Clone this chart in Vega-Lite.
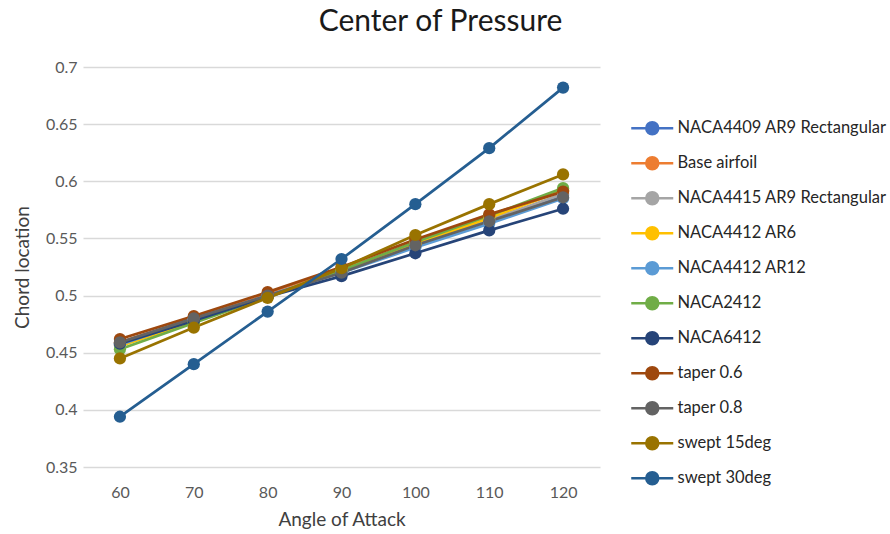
{
  "$schema": "https://vega.github.io/schema/vega-lite/v6.json",
  "autosize": {"type": "none"},
  "width": 517,
  "height": 400,
  "padding": {"left": 83, "top": 67, "right": 290, "bottom": 67},
  "background": "white",
  "title": {
    "text": "Center of Pressure",
    "font": "Lato",
    "fontSize": 30,
    "fontWeight": "normal",
    "color": "#1a1a1a",
    "anchor": "middle",
    "frame": "group",
    "dx": 99,
    "offset": 22
  },
  "config": {
    "view": {"stroke": null},
    "font": "Lato",
    "axis": {
      "labelFont": "Lato",
      "labelFontSize": 16,
      "labelColor": "#595959",
      "titleFont": "Lato",
      "titleFontSize": 19,
      "titleFontWeight": "normal",
      "titleColor": "#404040"
    }
  },
  "data": {
    "values": [
      {"series": "NACA4409 AR9 Rectangular", "aoa": 60, "cp": 0.457},
      {"series": "NACA4409 AR9 Rectangular", "aoa": 70, "cp": 0.479},
      {"series": "NACA4409 AR9 Rectangular", "aoa": 80, "cp": 0.500},
      {"series": "NACA4409 AR9 Rectangular", "aoa": 90, "cp": 0.521},
      {"series": "NACA4409 AR9 Rectangular", "aoa": 100, "cp": 0.543},
      {"series": "NACA4409 AR9 Rectangular", "aoa": 110, "cp": 0.566},
      {"series": "NACA4409 AR9 Rectangular", "aoa": 120, "cp": 0.588},
      {"series": "Base airfoil", "aoa": 60, "cp": 0.459},
      {"series": "Base airfoil", "aoa": 70, "cp": 0.480},
      {"series": "Base airfoil", "aoa": 80, "cp": 0.501},
      {"series": "Base airfoil", "aoa": 90, "cp": 0.523},
      {"series": "Base airfoil", "aoa": 100, "cp": 0.546},
      {"series": "Base airfoil", "aoa": 110, "cp": 0.569},
      {"series": "Base airfoil", "aoa": 120, "cp": 0.592},
      {"series": "NACA4415 AR9 Rectangular", "aoa": 60, "cp": 0.458},
      {"series": "NACA4415 AR9 Rectangular", "aoa": 70, "cp": 0.479},
      {"series": "NACA4415 AR9 Rectangular", "aoa": 80, "cp": 0.500},
      {"series": "NACA4415 AR9 Rectangular", "aoa": 90, "cp": 0.522},
      {"series": "NACA4415 AR9 Rectangular", "aoa": 100, "cp": 0.544},
      {"series": "NACA4415 AR9 Rectangular", "aoa": 110, "cp": 0.566},
      {"series": "NACA4415 AR9 Rectangular", "aoa": 120, "cp": 0.589},
      {"series": "NACA4412 AR6", "aoa": 60, "cp": 0.456},
      {"series": "NACA4412 AR6", "aoa": 70, "cp": 0.477},
      {"series": "NACA4412 AR6", "aoa": 80, "cp": 0.499},
      {"series": "NACA4412 AR6", "aoa": 90, "cp": 0.522},
      {"series": "NACA4412 AR6", "aoa": 100, "cp": 0.545},
      {"series": "NACA4412 AR6", "aoa": 110, "cp": 0.568},
      {"series": "NACA4412 AR6", "aoa": 120, "cp": 0.592},
      {"series": "NACA4412 AR12", "aoa": 60, "cp": 0.457},
      {"series": "NACA4412 AR12", "aoa": 70, "cp": 0.479},
      {"series": "NACA4412 AR12", "aoa": 80, "cp": 0.500},
      {"series": "NACA4412 AR12", "aoa": 90, "cp": 0.520},
      {"series": "NACA4412 AR12", "aoa": 100, "cp": 0.542},
      {"series": "NACA4412 AR12", "aoa": 110, "cp": 0.563},
      {"series": "NACA4412 AR12", "aoa": 120, "cp": 0.585},
      {"series": "NACA2412", "aoa": 60, "cp": 0.453},
      {"series": "NACA2412", "aoa": 70, "cp": 0.476},
      {"series": "NACA2412", "aoa": 80, "cp": 0.499},
      {"series": "NACA2412", "aoa": 90, "cp": 0.522},
      {"series": "NACA2412", "aoa": 100, "cp": 0.547},
      {"series": "NACA2412", "aoa": 110, "cp": 0.570},
      {"series": "NACA2412", "aoa": 120, "cp": 0.594},
      {"series": "NACA6412", "aoa": 60, "cp": 0.458},
      {"series": "NACA6412", "aoa": 70, "cp": 0.478},
      {"series": "NACA6412", "aoa": 80, "cp": 0.499},
      {"series": "NACA6412", "aoa": 90, "cp": 0.517},
      {"series": "NACA6412", "aoa": 100, "cp": 0.537},
      {"series": "NACA6412", "aoa": 110, "cp": 0.557},
      {"series": "NACA6412", "aoa": 120, "cp": 0.576},
      {"series": "taper 0.6", "aoa": 60, "cp": 0.462},
      {"series": "taper 0.6", "aoa": 70, "cp": 0.482},
      {"series": "taper 0.6", "aoa": 80, "cp": 0.503},
      {"series": "taper 0.6", "aoa": 90, "cp": 0.525},
      {"series": "taper 0.6", "aoa": 100, "cp": 0.549},
      {"series": "taper 0.6", "aoa": 110, "cp": 0.571},
      {"series": "taper 0.6", "aoa": 120, "cp": 0.591},
      {"series": "taper 0.8", "aoa": 60, "cp": 0.459},
      {"series": "taper 0.8", "aoa": 70, "cp": 0.480},
      {"series": "taper 0.8", "aoa": 80, "cp": 0.500},
      {"series": "taper 0.8", "aoa": 90, "cp": 0.520},
      {"series": "taper 0.8", "aoa": 100, "cp": 0.544},
      {"series": "taper 0.8", "aoa": 110, "cp": 0.565},
      {"series": "taper 0.8", "aoa": 120, "cp": 0.586},
      {"series": "swept 15deg", "aoa": 60, "cp": 0.445},
      {"series": "swept 15deg", "aoa": 70, "cp": 0.472},
      {"series": "swept 15deg", "aoa": 80, "cp": 0.498},
      {"series": "swept 15deg", "aoa": 90, "cp": 0.524},
      {"series": "swept 15deg", "aoa": 100, "cp": 0.553},
      {"series": "swept 15deg", "aoa": 110, "cp": 0.580},
      {"series": "swept 15deg", "aoa": 120, "cp": 0.606},
      {"series": "swept 30deg", "aoa": 60, "cp": 0.394},
      {"series": "swept 30deg", "aoa": 70, "cp": 0.440},
      {"series": "swept 30deg", "aoa": 80, "cp": 0.486},
      {"series": "swept 30deg", "aoa": 90, "cp": 0.532},
      {"series": "swept 30deg", "aoa": 100, "cp": 0.580},
      {"series": "swept 30deg", "aoa": 110, "cp": 0.629},
      {"series": "swept 30deg", "aoa": 120, "cp": 0.682}
    ]
  },
  "mark": {
    "type": "line",
    "strokeWidth": 2.75,
    "point": {"filled": true, "size": 150, "opacity": 1}
  },
  "encoding": {
    "x": {
      "field": "aoa",
      "type": "ordinal",
      "scale": {"type": "point", "padding": 0.5},
      "axis": {
        "title": "Angle of Attack",
        "labelAngle": 0,
        "ticks": false,
        "domain": false,
        "grid": false,
        "labelPadding": 17,
        "titlePadding": 10
      }
    },
    "y": {
      "field": "cp",
      "type": "quantitative",
      "scale": {"domain": [0.35, 0.7], "nice": false, "zero": false},
      "axis": {
        "title": "Chord location",
        "values": [0.35, 0.4, 0.45, 0.5, 0.55, 0.6, 0.65, 0.7],
        "format": "~g",
        "ticks": false,
        "domain": false,
        "grid": true,
        "gridColor": "#d9d9d9",
        "gridWidth": 1.5,
        "labelPadding": 6,
        "titlePadding": 13
      }
    },
    "color": {
      "field": "series",
      "type": "nominal",
      "sort": null,
      "scale": {
        "domain": ["NACA4409 AR9 Rectangular", "Base airfoil", "NACA4415 AR9 Rectangular", "NACA4412 AR6", "NACA4412 AR12", "NACA2412", "NACA6412", "taper 0.6", "taper 0.8", "swept 15deg", "swept 30deg"],
        "range": ["#4472C4", "#ED7D31", "#A5A5A5", "#FFC000", "#5B9BD5", "#70AD47", "#264478", "#9E480E", "#636363", "#997300", "#255E91"]
      },
      "legend": {
        "title": null,
        "orient": "none",
        "legendX": 561,
        "legendY": 53,
        "padding": 0,
        "symbolType": "M-3.5,0L3.5,0M1,0A1,1,0,1,1,-1,0A1,1,0,1,1,1,0Z",
        "symbolSize": 144,
        "symbolStrokeWidth": 2.5,
        "labelFont": "Lato",
        "labelFontSize": 16.5,
        "labelColor": "#262626",
        "labelOffset": 17,
        "labelLimit": 260,
        "rowPadding": 12,
        "encode": {
          "symbols": {
            "update": {
              "fill": {"scale": "color", "field": "value"},
              "stroke": {"scale": "color", "field": "value"},
              "opacity": {"value": 1}
            }
          }
        }
      }
    }
  }
}
